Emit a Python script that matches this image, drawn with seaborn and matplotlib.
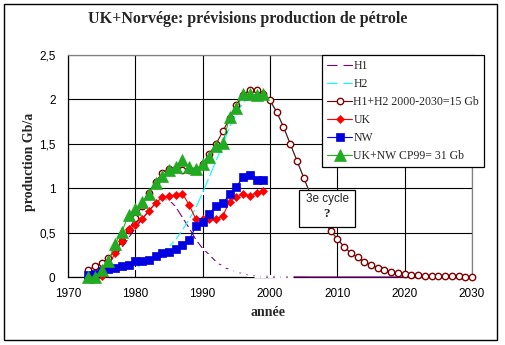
import matplotlib
matplotlib.use("Agg")
import matplotlib.pyplot as plt
import seaborn as sns
from matplotlib.patches import Rectangle
from matplotlib.ticker import FuncFormatter

# ---------------- data ----------------
years_model = list(range(1973, 2031))
h1 = [0.05, 0.07, 0.11, 0.16, 0.24, 0.33, 0.44, 0.55, 0.65, 0.75,
      0.83, 0.87, 0.87, 0.79, 0.67, 0.55, 0.42, 0.32, 0.25, 0.17,
      0.12, 0.08, 0.055, 0.035, 0.02, 0.014, 0.01, 0.007, 0.005, 0.003,
      0.002, 0.001, 0.001, 0.0, 0.0, 0.0, 0.0, 0.0, 0.0, 0.0,
      0.0, 0.0, 0.0, 0.0, 0.0, 0.0, 0.0, 0.0, 0.0, 0.0,
      0.0, 0.0, 0.0, 0.0, 0.0, 0.0, 0.0, 0.0]
h2 = [0.01, 0.015, 0.02, 0.03, 0.045, 0.06, 0.08, 0.10, 0.13, 0.17,
      0.22, 0.28, 0.34, 0.42, 0.53, 0.65, 0.78, 0.95, 1.13, 1.31,
      1.49, 1.69, 1.84, 1.96, 2.04, 2.06, 2.04, 1.98, 1.85, 1.69,
      1.50, 1.31, 1.12, 0.93, 0.76, 0.62, 0.52, 0.43, 0.34, 0.27,
      0.22, 0.17, 0.14, 0.10, 0.08, 0.06, 0.04, 0.03, 0.02, 0.018,
      0.015, 0.012, 0.01, 0.008, 0.007, 0.006, 0.005, 0.004]
h1h2 = [0.08, 0.12, 0.16, 0.21, 0.30, 0.40, 0.53, 0.66, 0.80, 0.95,
        1.07, 1.17, 1.22, 1.22, 1.21, 1.20, 1.21, 1.27, 1.39, 1.50,
        1.64, 1.79, 1.94, 2.05, 2.11, 2.11, 2.06, 1.99, 1.86, 1.69,
        1.50, 1.31, 1.12, 0.93, 0.76, 0.62, 0.52, 0.43, 0.34, 0.27,
        0.22, 0.17, 0.14, 0.10, 0.08, 0.06, 0.04, 0.03, 0.02, 0.018,
        0.015, 0.012, 0.01, 0.008, 0.007, 0.006, 0.005, 0.004]

years_uk = list(range(1975, 2000))
uk = [0.01, 0.13, 0.27, 0.40, 0.54, 0.59, 0.65, 0.74, 0.83, 0.90,
      0.91, 0.92, 0.94, 0.81, 0.65, 0.65, 0.65, 0.65, 0.69, 0.85,
      0.90, 0.93, 0.91, 0.95, 0.97]

years_hist = list(range(1973, 2000))
nw = [0.02, 0.03, 0.07, 0.09, 0.10, 0.12, 0.14, 0.18, 0.18, 0.19,
      0.24, 0.27, 0.28, 0.32, 0.36, 0.42, 0.57, 0.62, 0.71, 0.80,
      0.83, 0.93, 1.01, 1.13, 1.15, 1.09, 1.09]
uknw = [0.0, 0.0, 0.08, 0.18, 0.37, 0.51, 0.70, 0.77, 0.84, 0.94,
        1.06, 1.14, 1.20, 1.24, 1.32, 1.24, 1.22, 1.27, 1.35, 1.47,
        1.51, 1.80, 1.90, 2.06, 2.06, 2.05, 2.06]

labels = ["H1", "H2", "H1+H2 2000-2030=15 Gb", "UK", "NW", "UK+NW CP99= 31 Gb"]
x_ticks = [1970, 1980, 1990, 2000, 2010, 2020, 2030]
y_ticks = [0, 0.5, 1, 1.5, 2, 2.5]

# ---------------- figure ----------------
sns.set_style("white")
plt.rcParams["font.family"] = ["Liberation Sans", "DejaVu Sans"]
SERIF = ["Liberation Serif", "DejaVu Serif"]

W, H = 505, 345
fig = plt.figure(figsize=(W / 100, H / 100), dpi=100)
fig.patch.set_facecolor("white")

def fx(px):
    return px / W

def fy(py):
    return 1 - py / H

L, R, T, B = 68, 472, 55, 277
ax = fig.add_axes([fx(L), fy(B), (R - L) / W, (B - T) / H])
ax.set_facecolor("white")

lw = 0.8
sns.lineplot(x=years_model, y=h1, ax=ax, color="#800080", lw=lw, marker="_",
             ms=4.0, mew=2.2, markevery=slice(0, 31), label=labels[0],
             clip_on=False, zorder=3)
sns.lineplot(x=years_model, y=h2, ax=ax, color="#00FFFF", lw=lw, marker="_",
             ms=4.0, mew=2.2, label=labels[1], clip_on=False, zorder=3)
sns.lineplot(x=years_model, y=h1h2, ax=ax, color="#800000", lw=lw, marker="o",
             ms=4.6, mew=1.0, mfc="white", mec="#800000", label=labels[2],
             clip_on=False, zorder=4)
sns.lineplot(x=years_uk, y=uk, ax=ax, color="#FF0000", lw=lw, marker="D",
             ms=4.2, mew=0.5, mfc="#FF0000", mec="#FF0000", label=labels[3],
             clip_on=False, zorder=5)
sns.lineplot(x=years_hist, y=nw, ax=ax, color="#0000FF", lw=lw, marker="s",
             ms=5.2, mew=0.5, mfc="#0000E0", mec="#0000E0", label=labels[4],
             clip_on=False, zorder=6)
sns.lineplot(x=years_hist, y=uknw, ax=ax, color="#1DB31D", lw=lw, marker="^",
             ms=8.5, mew=0.5, mfc="#22AA22", mec="#22AA22", label=labels[5],
             clip_on=False, zorder=7)

ax.set_xlim(1970, 2030)
ax.set_ylim(0, 2.5)
ax.set_xticks(x_ticks)
ax.set_yticks(y_ticks)
ax.yaxis.set_major_formatter(FuncFormatter(lambda v, p: f"{v:g}".replace(".", ",")))
ax.tick_params(axis="both", direction="out", length=4, width=0.8, color="black",
               labelsize=8.5, labelcolor="black")
ax.tick_params(axis="y", pad=5)
ax.tick_params(axis="x", pad=4)
ax.set_xlabel("")
ax.set_ylabel("")

ax.set_axisbelow(True)
ax.grid(True, color="black", lw=0.8)
for s in ["left", "bottom"]:
    ax.spines[s].set_color("black")
    ax.spines[s].set_linewidth(0.9)
for s in ["top", "right"]:
    ax.spines[s].set_color("#808080")
    ax.spines[s].set_linewidth(0.9)

leg = ax.legend(loc="upper left", bbox_to_anchor=(fx(322), fy(55)),
                bbox_transform=fig.transFigure, borderaxespad=0,
                frameon=True, fancybox=False, shadow=False, framealpha=1,
                edgecolor="black", prop={"family": SERIF, "size": 8.5},
                handlelength=2.1, handletextpad=0.1, labelspacing=0.5,
                borderpad=0.45)
leg.get_frame().set_linewidth(0.9)

# title and axis labels
fig.text(fx(248), fy(19), "UK+Norvége: prévisions production de pétrole",
         ha="center", va="center", family=SERIF, weight="bold", fontsize=11.5)
fig.text(fx(268), fy(313), "année", ha="center", va="center",
         family=SERIF, weight="bold", fontsize=10)
fig.text(fx(30), fy(162), "production Gb/a", ha="center", va="center",
         rotation=90, family=SERIF, weight="bold", fontsize=10)

# "3e cycle ?" box
fig.patches.append(Rectangle((fx(299), fy(227)), (355 - 299) / W, (227 - 190) / H,
                             transform=fig.transFigure, facecolor="white",
                             edgecolor="black", lw=0.9, zorder=5))
fig.text(fx(327), fy(199), "3e cycle", ha="center", va="center",
         fontsize=8.5, zorder=6)
fig.text(fx(327), fy(214), "?", ha="center", va="center",
         family=SERIF, weight="bold", fontsize=9.5, zorder=6)

# outer chart border
fig.patches.append(Rectangle((fx(4), fy(340)), (497 - 4) / W, (340 - 4) / H,
                             transform=fig.transFigure, fill=False,
                             edgecolor="black", lw=1.0, zorder=10))

fig.savefig("out.png", dpi=100, facecolor="white")
